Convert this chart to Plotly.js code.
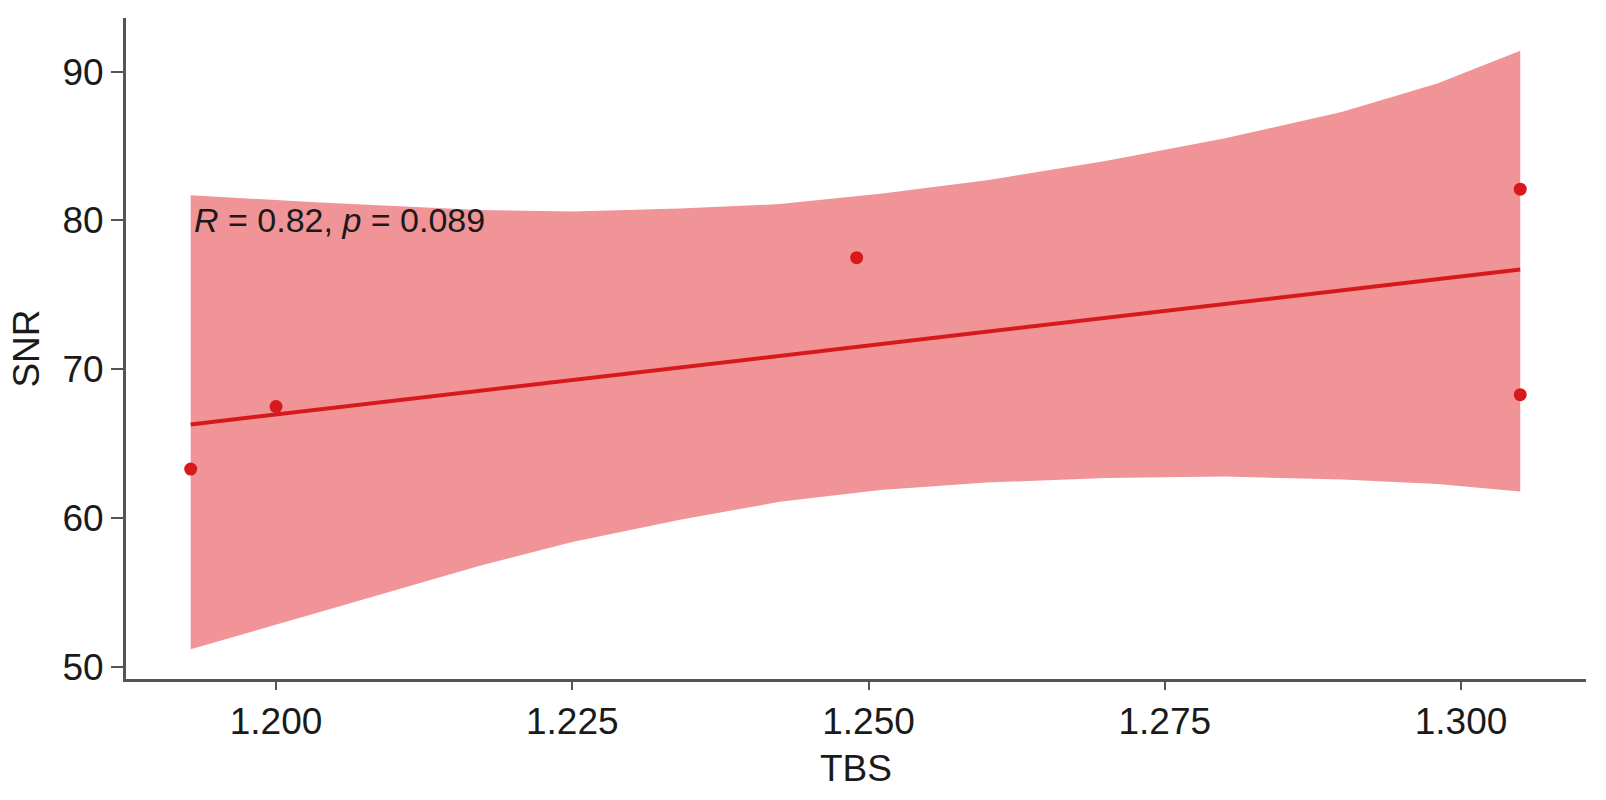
<!DOCTYPE html>
<html>
<head>
<meta charset="utf-8">
<script src="https://cdn.plot.ly/plotly-3.0.1.min.js"></script>
<style>
  html, body { margin: 0; padding: 0; background: #fff; }
  #chart { width: 1606px; height: 800px; }
</style>
</head>
<body>
<div id="chart"></div>
<script>
// points
const tbs = [1.1928, 1.2000, 1.2490, 1.3050, 1.3050];
const snr = [63.3, 67.5, 77.5, 82.1, 68.3];

// regression line end points
const fitX = [1.1928, 1.3050];
const fitY = [66.3, 76.7];

// confidence band edges
const bandX = [1.1928, 1.2037, 1.2172, 1.2250, 1.2341, 1.2425, 1.2510, 1.2600, 1.2700, 1.2800, 1.2900, 1.2980, 1.3050];
const bandUpper = [81.7, 81.2, 80.7, 80.6, 80.8, 81.1, 81.8, 82.7, 84.0, 85.5, 87.3, 89.2, 91.4];
const bandLower = [51.2, 53.7, 56.8, 58.4, 59.9, 61.1, 61.9, 62.4, 62.7, 62.8, 62.6, 62.3, 61.8];

const xTicks = [1.200, 1.225, 1.250, 1.275, 1.300];
const yTicks = [50, 60, 70, 80, 90];

const fontFam = 'Arial, "Liberation Sans", sans-serif';
const red = '#D7191C';
const ink = '#1a1a1a';

// polygon for the band: upper edge left->right, lower edge right->left
const polyX = bandX.concat(bandX.slice().reverse());
const polyY = bandUpper.concat(bandLower.slice().reverse());

const traces = [
    {
        x: polyX, y: polyY, type: 'scatter', mode: 'lines',
        fill: 'toself', fillcolor: '#F09498',
        line: { width: 0, color: '#F09498' },
        hoverinfo: 'skip'
    },
    {
        x: fitX, y: fitY, type: 'scatter', mode: 'lines',
        line: { color: red, width: 4 }, hoverinfo: 'skip'
    },
    {
        x: tbs, y: snr, type: 'scatter', mode: 'markers',
        marker: { color: red, size: 13 }
    }
];

const layout = {
    width: 1606, height: 800,
    margin: { l: 126, r: 20, t: 18, b: 121 },
    paper_bgcolor: '#fff', plot_bgcolor: '#fff',
    showlegend: false,
    font: { family: fontFam, color: ink },
    xaxis: {
        range: [1.18734, 1.31055],
        tickvals: xTicks, tickformat: '.3f',
        showgrid: false, zeroline: false,
        showline: true, linecolor: '#555', linewidth: 3,
        ticks: 'outside', ticklen: 8, tickwidth: 2, tickcolor: '#555',
        tickfont: { size: 37, color: ink },
        title: { text: 'TBS', font: { size: 37, color: ink }, standoff: 14 }
    },
    yaxis: {
        range: [49.2, 93.6],
        tickvals: yTicks,
        showgrid: false, zeroline: false,
        showline: true, linecolor: '#555', linewidth: 3,
        ticks: 'outside', ticklen: 12, tickwidth: 2, tickcolor: '#555',
        tickfont: { size: 37, color: ink },
        title: { text: 'SNR', font: { size: 37, color: ink }, standoff: 12 }
    },
    annotations: [{
        x: 1.1929, y: 80.0, xref: 'x', yref: 'y',
        xanchor: 'left', yanchor: 'middle', showarrow: false,
        text: '<i>R</i> = 0.82, <i>p</i> = 0.089',
        font: { size: 34, color: ink, family: fontFam }
    }]
};

Plotly.newPlot('chart', traces, layout, { displayModeBar: false, staticPlot: true });
</script>
</body>
</html>
